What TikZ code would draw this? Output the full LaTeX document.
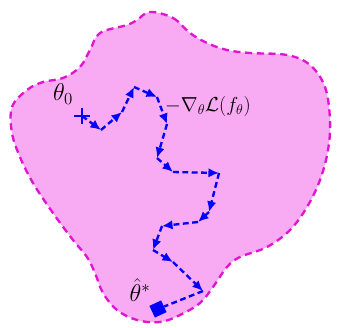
\documentclass[tikz,border=0pt]{standalone}
\usetikzlibrary{arrows.meta}
\definecolor{blobfill}{RGB}{248,170,242}
\definecolor{blobline}{RGB}{225,20,210}
\tikzset{
  stepline/.style={blue,line width=2pt,dash pattern=on 5pt off 3pt,-{Latex[length=9pt,width=8pt]}},
  lastline/.style={blue,line width=2pt,dash pattern=on 5pt off 3pt},
  lbl/.style={font=\fontsize{21}{24}\selectfont,inner sep=0pt},
  sublbl/.style={font=\fontsize{17}{20}\selectfont,inner sep=0pt}
}
\begin{document}
\begin{tikzpicture}[x=0.03cm,y=-0.03cm]
\useasboundingbox (0,0) rectangle (339,327);
\draw[blobline,fill=blobfill,line width=2pt,dash pattern=on 6pt off 4pt]
  plot[smooth cycle,tension=0.6] coordinates {
  (150,12) (173,18) (190,33) (207,43) (227,50) (250,53) (287,55) (310,65)
  (325,87) (330,120) (328,150) (320,180) (307,207) (290,230) (267,247)
  (240,257) (227,267) (213,287) (200,303) (180,315) (160,322) (137,320)
  (117,310) (103,293) (95,273) (87,257) (73,240) (53,213) (33,183) (20,157)
  (12,133) (12,107) (27,90) (43,82) (63,78) (80,67) (90,50) (100,33)
  (127,25) (137,20)};
\coordinate (a0) at (82,116);
\coordinate (a1) at (101,130);
\coordinate (a2) at (122,112);
\coordinate (a3) at (134,87);
\coordinate (a4) at (157,97);
\coordinate (a5) at (167,124);
\coordinate (a6) at (157,158);
\coordinate (a7) at (173,172);
\coordinate (a8) at (219,173);
\coordinate (a9) at (209,212);
\coordinate (a10) at (198,222);
\coordinate (a11) at (162,226);
\coordinate (a12) at (153,250);
\coordinate (a13) at (173,262);
\coordinate (a14) at (203,291);
\node[blue,fill,rotate=25,minimum size=11pt,inner sep=0pt] (sq) at (158,309) {};
\foreach \i/\j in {0/1,1/2,2/3,3/4,4/5,5/6,6/7,7/8,8/9,9/10,10/11,11/12,12/13,13/14}
  \draw[stepline] (a\i) -- (a\j);
\draw[lastline] (a14) -- (sq);
\draw[blue,line width=2.2pt] (74,116) -- (90,116) (82,108) -- (82,124);
\node[lbl] (t0) at (63,94) {$\theta_0$};
\node[sublbl,anchor=west] (grad) at (165,106) {$-\nabla_\theta\mathcal{L}(f_\theta)$};
\node[lbl] (ts) at (140,290) {$\hat{\theta}^{*}$};
\end{tikzpicture}
\end{document}
